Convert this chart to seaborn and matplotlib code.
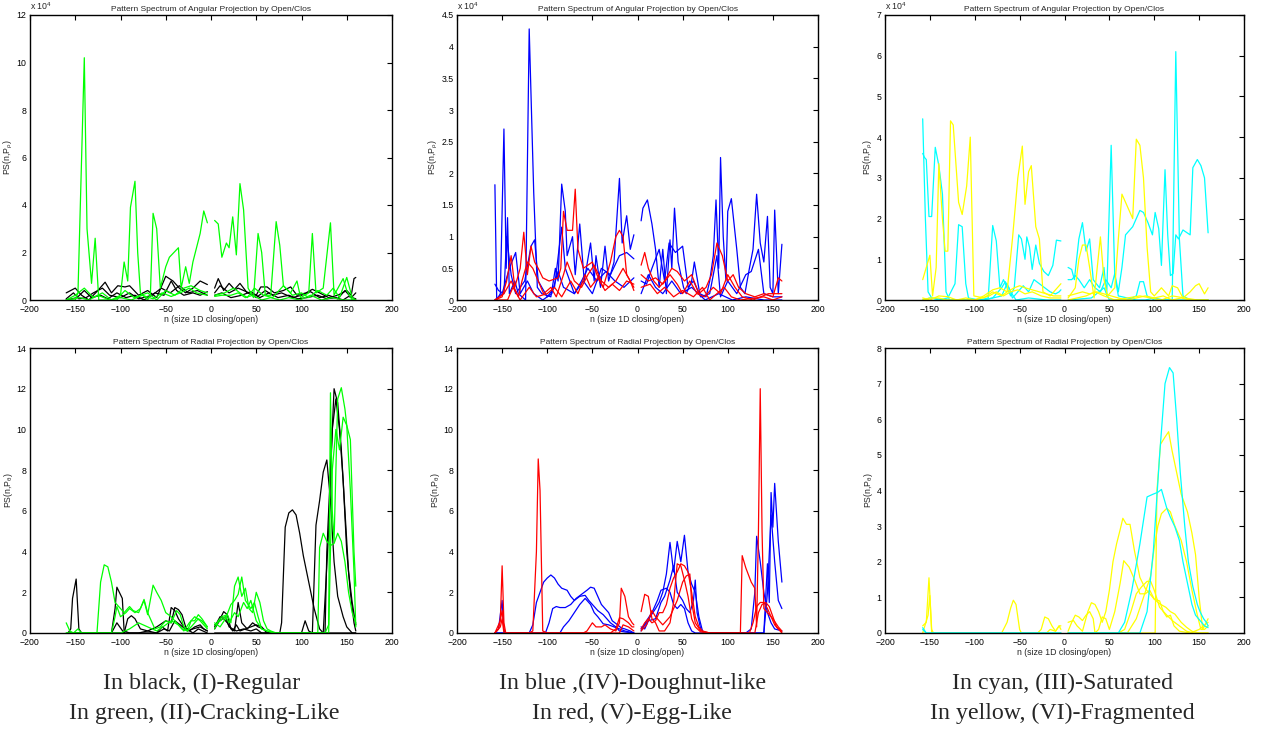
import numpy as np
import pandas as pd
import matplotlib
matplotlib.use("Agg")
import matplotlib.pyplot as plt
import seaborn as sns

# ---------------- data (n, PS) keypoints ----------------
# Top row values are in units of 1e4 (axis shows "x 10^4")

# Top-left: black (I) Regular, green (II) Cracking-Like
TL_K1 = [(-160,0.3),(-150,0.5),(-143,0.2),(-135,0),(-125,0.4),(-117,0.75),(-110,0.3),(-103,0.6),(-95,0.55),(-90,0.6),(-80,0.2),(-70,0.4),(-60,0.1),(-50,1.0),(-42,0.8),(-35,0.5),(-28,0.3),(-20,0.5),(-12,0.8),(-4,0.65),
         (4,0.5),(8,0.9),(14,0.4),(20,0.7),(26,0.45),(32,0.7),(40,0.3),(50,0.2),(55,0.55),(62,0.55),(70,0.3),(80,0.4),(88,0.55),(95,0.2),(105,0.3),(112,0.45),(120,0.3),(130,0.1),(140,0.2),(150,0.4),(155,0.2),(158,0.9),(160,0.95)]
TL_K2 = [(-160,0.05),(-152,0.3),(-146,0.05),(-138,0.1),(-130,0.3),(-120,0.5),(-112,0.2),(-100,0.1),(-90,0.3),(-80,0.05),(-65,0.2),(-55,0.5),(-45,0.3),(-35,0.6),(-25,0.3),(-15,0.4),(-4,0.2),
         (4,0.3),(10,0.6),(20,0.3),(30,0.5),(42,0.3),(50,0.1),(60,0.4),(68,0.2),(78,0.3),(90,0.1),(100,0.2),(110,0.35),(120,0.1),(130,0.2),(140,0.05),(148,0.4),(155,0.1),(160,0.3)]
TL_K3 = [(-160,0.0),(-148,0.1),(-140,0.4),(-132,0.1),(-122,0.2),(-114,0.05),(-104,0.3),(-94,0.1),(-84,0.2),(-74,0.0),(-62,0.3),(-52,0.2),(-44,0.8),(-38,0.4),(-30,0.2),(-20,0.3),(-12,0.2),(-4,0.35),
         (4,0.2),(12,0.3),(22,0.1),(34,0.2),(44,0.35),(54,0.1),(64,0.3),(74,0.1),(86,0.2),(96,0.05),(106,0.1),(118,0.2),(128,0.05),(138,0.1),(146,0.0),(152,0.15),(160,0.05)]
TL_G1 = [(-160,0),(-150,0),(-147,0.3),(-140,10.2),(-137,3.0),(-132,0.7),(-128,2.6),(-124,0),(-104,0),(-100,0.2),(-96,1.6),(-92,0.8),(-89,3.9),(-84,5.0),(-81,2.0),(-78,0.3),(-70,0),(-67,0.2),(-64,3.65),(-60,3.0),(-56,0.5),(-50,1.4),(-46,1.8),(-41,2.0),(-36,2.2),(-33,0.5),(-28,1.4),(-24,0.7),(-20,1.6),(-12,2.8),(-8,3.75),(-4,3.25),
         (4,3.35),(8,3.2),(12,1.8),(17,2.4),(20,2.2),(24,3.5),(28,1.9),(32,4.9),(36,3.8),(41,0.5),(47,0.1),(52,2.8),(56,2.0),(60,0.2),(66,0.2),(72,3.3),(76,2.3),(80,0.6),(88,0.3),(95,0.8),(99,0.1),(108,0.3),(112,2.8),(116,0.3),(124,0.5),(132,3.25),(136,0.2),(146,0.9),(150,0.4),(156,0),(160,0)]
TL_G2 = [(-160,0),(-150,0.2),(-140,0.5),(-130,0.1),(-120,0.3),(-110,0),(-100,0.2),(-95,0.4),(-85,0.1),(-70,0.3),(-60,0),(-50,0.4),(-40,0.2),(-30,0.5),(-22,0.6),(-12,0.4),(-4,0.3),
         (4,0.2),(15,0.3),(25,0.5),(32,0.3),(40,0.1),(48,0.5),(58,0.2),(68,0.1),(80,0.6),(90,0.2),(100,0.3),(108,0.1),(118,0.4),(128,0.2),(135,0.5),(142,0.1),(150,0.95),(156,0.1),(160,0)]
TL_G3 = [(-160,0),(-145,0.1),(-135,0),(-125,0.2),(-112,0),(-100,0.1),(-88,0),(-76,0.2),(-64,0.05),(-54,0.3),(-44,0.15),(-34,0.3),(-24,0.5),(-16,0.3),(-4,0.2),
         (4,0.15),(12,0.2),(22,0.2),(30,0.3),(38,0.1),(46,0.2),(56,0.0),(66,0.1),(76,0.0),(86,0.1),(98,0.0),(110,0.2),(122,0.0),(134,0.1),(146,0.0),(160,0.0)]

# Top-middle: blue (IV) Doughnut-like, red (V) Egg-Like
TM_B1 = [(-158,1.82),(-156,0),(-152,0.1),(-148,2.7),(-145.5,0.5),(-144,1.3),(-142,0.1),(-136,0.3),(-132,0.1),(-124,0),(-120,4.28),(-115,1.7),(-111,0.2),(-106,0.1),(-96,0.05),(-91,0.5),(-88,0.3),(-84,1.83),(-80,1.4),(-78,0.7),(-72,1.0),(-69,0.4),(-64,1.2),(-59,0.3),(-52,0.9),(-48,0.3),(-46,0.7),(-41,0.2),(-36,0.85),(-32,0.3),(-26,0.6),(-20,1.92),(-17,0.9),(-12,1.33),(-8,0.8),(-4,1.03),
         (4,1.25),(6,1.45),(11,1.58),(16,1.2),(20,0.8),(24,0.2),(28,0.8),(32,0.1),(36,0.95),(38,0.5),(41,1.45),(45,0.6),(51,0.2),(54,0.1),(60,0.3),(63,0.6),(69,0.1),(76,0.05),(80,0.3),(84,0.7),(87,1.58),(90,0.5),(92,2.25),(95,1.0),(98,0.3),(100,1.4),(104,1.6),(110,0.8),(114,0.2),(119,0.1),(124,0.5),(128,0.8),(132,1.67),(136,0.9),(140,0.6),(144,1.32),(147,0.2),(150,0.1),(152,1.42),(156,0.1),(160,0.88)]
TM_B2 = [(-158,0.25),(-154,0.15),(-148,0.1),(-145,1.0),(-140,0.4),(-135,0.1),(-125,0.3),(-118,0.85),(-114,0.95),(-110,0.3),(-100,0.05),(-92,0.2),(-84,1.15),(-80,0.5),(-70,0.1),(-60,0.3),(-50,0.1),(-40,0.5),(-30,0.4),(-20,0.7),(-12,0.75),(-4,0.65),
         (4,0.3),(10,0.25),(16,0.5),(24,0.8),(30,0.3),(35,0.9),(42,0.75),(50,0.85),(56,0.2),(62,0.3),(70,0.05),(80,0.1),(88,0.7),(92,0.05),(100,0.3),(110,0.1),(120,0.4),(126,0.45),(134,0.8),(140,0.1),(150,0.05),(160,0.05)]
TM_B3 = [(-158,0),(-150,0.1),(-142,0.5),(-135,0.75),(-130,0.1),(-122,0.3),(-115,0.1),(-105,0),(-95,0.1),(-88,0.45),(-82,0.2),(-70,0.1),(-62,0.3),(-55,0.5),(-45,0.3),(-35,0.45),(-25,0.3),(-15,0.2),(-4,0.35),
         (4,0.1),(12,0.4),(20,0.2),(28,0.1),(38,0.3),(48,0.1),(60,0.2),(75,0.0),(90,0.1),(105,0.0),(120,0.05),(140,0.0),(160,0.0)]
TM_R1 = [(-158,0),(-150,0.05),(-145,0.3),(-140,0.7),(-136,0.2),(-130,0.5),(-126,1.07),(-122,0.4),(-118,0.85),(-114,0.6),(-110,0.5),(-105,0.35),(-98,0.3),(-88,0.35),(-85,0.5),(-82,1.4),(-78,1.1),(-72,1.1),(-69,1.75),(-66,0.8),(-60,0.5),(-50,0.6),(-45,0.4),(-38,0.2),(-30,0.6),(-24,1.0),(-20,1.1),(-16,1.0),(-12,0.4),(-8,0.3),(-4,0.2),
         (4,0.55),(8,0.75),(12,0.5),(18,0.3),(24,0.2),(30,0.3),(38,0.5),(44,0.45),(52,0.3),(60,0.4),(68,0.1),(76,0.2),(82,0.4),(88,0.9),(94,0.7),(100,0.3),(106,0.4),(112,0.2),(120,0.1),(130,0.05),(140,0.1),(150,0.05),(156,0.35),(160,0.3)]
TM_R2 = [(-158,0),(-148,0.1),(-140,0.3),(-132,0.05),(-128,0.3),(-122,0.6),(-116,0.5),(-110,0.3),(-104,0.1),(-96,0.2),(-90,0.05),(-82,0.4),(-78,0.6),(-70,0.3),(-62,0.2),(-55,0.4),(-48,0.55),(-40,0.3),(-32,0.2),(-24,0.3),(-16,0.5),(-8,0.3),(-4,0.15),
         (4,0.4),(12,0.3),(20,0.35),(28,0.25),(36,0.4),(44,0.25),(50,0.1),(58,0.3),(66,0.1),(74,0.05),(84,0.2),(92,0.1),(100,0.4),(108,0.2),(116,0.05),(128,0.0),(145,0.1),(160,0.1)]
TM_R3 = [(-158,0),(-144,0),(-138,0.2),(-130,0),(-120,0.2),(-112,0.05),(-100,0.1),(-92,0.2),(-84,0.05),(-74,0.3),(-66,0.1),(-58,0.4),(-52,0.2),(-44,0.35),(-36,0.15),(-28,0.25),(-20,0.15),(-12,0.3),(-4,0.25),
         (4,0.2),(14,0.25),(22,0.1),(30,0.2),(40,0.05),(50,0.15),(62,0.05),(72,0.2),(80,0.0),(96,0.2),(104,0.05),(114,0.0),(140,0.05),(150,0.0),(160,0.05)]

# Top-right: cyan (III) Saturated, yellow (VI) Fragmented
TR_C1 = [(-158,4.45),(-155,2.0),(-152,0.2),(-148,0.05),(-140,0.0),(-130,0.05),(-122,0.4),(-118,1.85),(-114,1.8),(-110,0.4),(-107,0.05),(-95,0),(-85,0.05),(-80,1.83),(-76,1.45),(-72,0.3),(-68,0.5),(-60,0.1),(-56,0.3),(-51,1.6),(-48,1.5),(-44,1.0),(-42,1.55),(-39,1.3),(-36,0.75),(-32,1.35),(-28,0.9),(-23,0.7),(-18,0.6),(-13,0.85),(-9,1.47),(-4,1.45),
         (4,0.8),(8,0.75),(11,0.5),(16,1.5),(20,1.9),(24,1.2),(28,1.5),(32,0.5),(39,0.3),(44,0.8),(47,0.1),(52,3.8),(56,0.6),(60,0.1),(70,0.05),(80,0.0),(90,0.0),(100,0.05),(110,0.0),(120,0.0),(124,6.1),(128,1.5),(132,0.1),(140,0.0),(160,0.0)]
TR_C2 = [(-158,3.6),(-156,3.5),(-154,3.45),(-151,2.05),(-148,2.05),(-144,3.75),(-140,3.3),(-136,2.6),(-132,0.2),(-128,0.0),(-100,0),(-90,0.0),(-80,0.05),(-70,0.3),(-66,0.45),(-62,0.3),(-58,0.05),(-52,0.2),(-46,0.35),(-40,0.2),(-34,0.5),(-28,0.4),(-22,0.3),(-16,0.2),(-10,0.15),(-6,0.2),(-4,0.25),
         (4,0.5),(8,0.5),(12,0.6),(16,0.5),(22,0.3),(28,0.5),(34,0.3),(40,0.2),(46,0.5),(52,0.3),(56,0.65),(60,0.2),(64,0.8),(68,1.6),(76,1.8),(84,2.2),(88,2.15),(93,1.9),(98,1.6),(101,2.15),(105,1.75),(108,0.85),(112,3.2),(115,1.6),(118,0.6),(121,0.65),(124,1.6),(127,1.5),(132,1.72),(140,1.6),(143,3.25),(148,3.45),(152,3.3),(156,3.0),(160,1.65)]
TR_C3 = [(-158,0),(-150,0.05),(-130,0),(-110,0),(-90,0),(-70,0.1),(-64,0.4),(-60,0.2),(-54,0.0),(-40,0.05),(-20,0.0),(-4,0.0),
         (4,0.0),(30,0.05),(44,0.3),(50,0.0),(70,0.0),(80,0.1),(84,0.45),(88,0.45),(92,0.1),(100,0.0),(120,0.0),(160,0.0)]
TR_Y1 = [(-158,0.5),(-154,0.8),(-150,1.1),(-147,0.1),(-143,0.8),(-140,3.35),(-136,2.0),(-133,1.2),(-130,1.2),(-127,4.4),(-124,4.3),(-118,2.4),(-114,2.1),(-109,2.8),(-105,4.0),(-101,0.1),(-90,0.05),(-80,0.2),(-70,0.1),(-64,0.2),(-58,1.5),(-52,3.0),(-47,3.78),(-44,2.35),(-40,3.15),(-37,3.3),(-32,1.8),(-28,1.5),(-24,0.2),(-16,0.1),(-8,0.3),(-4,0.4),
         (4,0.05),(12,0.3),(16,1.0),(20,1.35),(24,1.35),(28,0.8),(33,0.05),(40,1.55),(44,0.5),(48,0.1),(56,0.3),(60,1.5),(64,2.6),(72,2.2),(76,2.0),(80,3.95),(84,3.8),(88,3.0),(92,1.3),(96,0.2),(100,0.1),(108,0.3),(116,0.1),(120,0.35),(126,0.3),(132,0.05),(140,0.2),(146,0.35),(150,0.4),(156,0.15),(160,0.3)]
TR_Y2 = [(-158,0.05),(-150,0.0),(-145,0.05),(-140,0.1),(-130,0.08),(-120,0.0),(-110,0.05),(-100,0.0),(-90,0.1),(-80,0.25),(-72,0.3),(-64,0.2),(-56,0.3),(-50,0.35),(-44,0.3),(-36,0.25),(-28,0.2),(-20,0.15),(-12,0.1),(-4,0.1),
         (4,0.1),(12,0.15),(20,0.2),(28,0.15),(36,0.2),(44,0.15),(52,0.1),(60,0.05),(70,0.0),(80,0.05),(90,0.1),(100,0.05),(110,0.1),(120,0.0),(130,0.05),(140,0.0),(160,0.0)]
TR_Y3 = [(-158,0.0),(-150,0.05),(-140,0.05),(-132,0.0),(-120,0.0),(-100,0.0),(-84,0.1),(-76,0.2),(-68,0.1),(-60,0.2),(-52,0.25),(-44,0.15),(-36,0.2),(-26,0.1),(-16,0.05),(-4,0.05),
         (4,0.0),(14,0.05),(24,0.1),(34,0.2),(44,0.1),(56,0.0),(70,0.05),(84,0.1),(96,0.05),(108,0.0),(120,0.1),(134,0.05),(148,0.0),(160,0.0)]

# Bottom-left: black (I), green (II)
BL_K1 = [(-158,0),(-155,0.2),(-153,1.7),(-149,2.65),(-146,0.2),(-143,0),(-110,0),(-106,1.2),(-104,2.25),(-98,1.7),(-96,0.1),(-90,0),(-80,0),(-70,0.1),(-60,0.3),(-50,0.6),(-44,0.5),(-40,1.25),(-36,1.15),(-32,0.9),(-28,0.3),(-24,0.1),(-18,0.3),(-12,0.4),(-8,0.2),(-4,0.1),
         (4,0.2),(8,0.5),(14,1.05),(18,0.9),(22,0.2),(26,0.1),(30,1.5),(34,0.5),(40,0.2),(46,0.5),(52,0.3),(58,0.2),(62,0),(76,0),(78,0.5),(82,5.2),(86,5.9),(90,6.05),(94,5.8),(98,4.9),(102,3.8),(108,2.5),(114,1.2),(120,0.2),(124,0),(160,0)]
BL_K2 = [(-158,0),(-110,0),(-104,0.5),(-96,0),(-92,0.7),(-88,0.85),(-84,0.7),(-78,0.2),(-70,0.1),(-60,0),(-54,0.3),(-48,0.1),(-44,1.25),(-40,1.1),(-36,0.7),(-30,0.3),(-20,0),(-14,0.2),(-4,0),
         (4,0.3),(10,0.8),(14,0.7),(18,0.5),(24,0.1),(28,0.4),(32,0.1),(44,0.3),(50,0.4),(56,0.3),(62,0),(100,0),(104,0.6),(108,0.1),(112,0),(116,5.3),(120,6.5),(124,7.9),(128,8.5),(132,6.5),(136,3.5),(140,1.8),(146,0.8),(150,0.3),(156,0),(160,0)]
BL_K3 = [(-158,0),(-60,0),(-52,0.2),(-46,0.1),(-40,0.6),(-34,0.4),(-26,0.1),(-20,0.2),(-12,0.3),(-4,0.1),
         (4,0.4),(10,0.6),(16,0.8),(20,0.3),(28,0.1),(36,0.2),(44,0.1),(50,0.2),(56,0),(120,0),(126,0),(128,4.0),(132,8.0),(136,12.0),(140,11.3),(144,9.0),(148,6.0),(152,3.0),(156,1.5),(160,0.4)]
BL_K4 = [(-158,0),(-4,0),(4,0),(124,0),(130,5.0),(134,10.0),(138,11.5),(142,10.0),(146,7.5),(150,4.0),(154,2.0),(158,0.5),(160,0.1)]
BL_G1 = [(-160,0.5),(-156,0.1),(-152,0),(-147,0.2),(-143,0),(-126,0),(-122,2.5),(-118,3.35),(-114,3.25),(-110,2.5),(-106,1.5),(-100,1.2),(-96,1.0),(-90,1.3),(-86,1.1),(-80,1.0),(-74,1.6),(-70,0.9),(-64,2.35),(-60,2.0),(-55,1.6),(-50,1.0),(-44,0.8),(-38,0.5),(-32,0.2),(-26,0.1),(-20,0.4),(-14,0.7),(-10,0.6),(-6,0.4),(-4,0.3),
         (4,0.2),(8,0.6),(12,0.8),(18,0.9),(22,0.5),(26,2.3),(30,2.75),(34,1.8),(38,2.2),(42,1.2),(46,1.0),(50,2.0),(54,1.5),(58,0.6),(62,0.2),(66,0.1),(72,0),(114,0),(118,0),(120,4.2),(124,4.9),(128,4.5),(132,4.3),(136,4.4),(140,4.9),(144,4.5),(148,3.5),(152,2.0),(156,1.0),(160,0.5)]
BL_G2 = [(-160,0),(-110,0),(-106,0.8),(-104,1.3),(-100,0.8),(-94,1.0),(-90,1.2),(-84,1.0),(-78,1.2),(-74,1.65),(-70,1.0),(-62,0.2),(-56,0.3),(-50,0.6),(-44,0.5),(-38,1.1),(-34,0.9),(-30,0.3),(-26,0.1),(-22,0.6),(-18,0.6),(-14,0.9),(-10,0.7),(-4,0.3),
         (4,0.5),(10,0.3),(16,0.7),(22,1.4),(26,1.6),(30,1.9),(34,2.75),(38,1.6),(44,1.2),(48,1.5),(52,0.8),(56,0.2),(62,0.1),(70,0),(126,0),(130,0.4),(132,11.8),(134,6.0),(136,4.5),(140,11.5),(144,12.05),(148,11.0),(150,10.2),(154,9.5),(158,4.0),(160,2.3)]
BL_G3 = [(-160,0),(-100,0),(-90,0.2),(-80,0.5),(-70,0.3),(-60,0.1),(-50,0.4),(-44,0.6),(-36,0.4),(-30,0.1),(-24,0.5),(-18,0.8),(-12,0.6),(-4,0.2),
         (4,0.4),(10,0.6),(16,0.8),(20,0.5),(26,1.0),(30,0.8),(36,1.5),(40,1.2),(44,1.6),(50,0.6),(56,0.2),(62,0.1),(70,0),(126,0),(130,0),(134,8.0),(138,10.0),(142,9.0),(146,10.6),(150,10.2),(154,7.0),(158,3.0),(160,0.3)]

# Bottom-middle: blue (IV), red (V)
BM_B1 = [(-158,0),(-154,0.2),(-150,1.6),(-148,0.1),(-146,0),(-120,0),(-116,0.4),(-112,1.5),(-108,2.0),(-104,2.5),(-100,2.7),(-96,2.85),(-92,2.7),(-88,2.4),(-84,2.2),(-78,2.1),(-74,1.8),(-70,1.6),(-64,1.8),(-58,1.85),(-54,1.6),(-50,1.4),(-44,1.1),(-38,0.9),(-34,0.7),(-30,0.5),(-24,0.3),(-20,0.1),(-14,0.05),(-4,0),
         (4,0.3),(8,0.2),(14,0.8),(20,1.2),(24,1.5),(28,2.0),(32,2.9),(36,4.45),(40,3.0),(44,4.5),(48,3.5),(52,4.8),(56,3.0),(60,2.4),(64,2.0),(68,0.8),(72,0.1),(76,0),(120,0),(126,0.2),(130,2.0),(132,4.75),(136,3.5),(140,2.0),(144,1.0),(148,0.5),(152,0.2),(160,0.1)]
BM_B2 = [(-158,0),(-102,0),(-98,0.5),(-94,1.2),(-90,1.3),(-86,1.25),(-80,1.25),(-74,1.4),(-68,1.7),(-62,1.9),(-56,2.1),(-52,2.25),(-48,2.2),(-44,1.8),(-40,1.4),(-36,1.2),(-32,1.0),(-28,0.6),(-22,0.4),(-18,0.25),(-14,0.2),(-8,0.1),(-4,0),
         (4,0.1),(10,0.6),(16,1.0),(22,1.6),(26,2.1),(32,2.2),(36,2.0),(40,1.4),(44,1.2),(48,1.4),(52,1.2),(56,0.5),(60,0.1),(64,0),(140,0),(144,3.4),(146,1.5),(148,6.9),(150,5.2),(152,7.35),(156,4.5),(160,2.5)]
BM_B3 = [(-158,0),(-86,0),(-82,0.3),(-76,0.6),(-70,1.0),(-64,1.4),(-58,1.7),(-52,1.4),(-48,1.0),(-44,0.8),(-38,0.45),(-32,0.4),(-26,0.3),(-20,0.2),(-14,0.1),(-4,0),
         (4,0.2),(12,0.6),(20,0.7),(26,1.5),(30,1.8),(36,2.6),(40,3.3),(44,2.0),(50,1.6),(54,1.2),(58,1.0),(62,1.6),(64,2.6),(66,1.0),(70,0.2),(74,0),(140,0),(144,2.0),(148,5.8),(152,3.5),(156,1.6),(160,1.2)]
BM_R1 = [(-158,0),(-156,0.2),(-152,0.6),(-150,3.3),(-148,0.5),(-146,0),(-120,0),(-116,0.1),(-112,4.0),(-110,8.55),(-108,7.0),(-105,0.1),(-100,0),(-60,0),(-56,0.1),(-50,0.5),(-46,0.3),(-40,0.3),(-36,0.4),(-30,0.2),(-24,0.1),(-20,0.5),(-18,2.2),(-14,1.8),(-10,0.8),(-6,0.5),(-4,0.4),
         (4,1.05),(8,1.9),(12,1.8),(16,0.7),(20,0.5),(24,0.1),(30,0.1),(36,0.5),(40,1.5),(44,3.4),(48,3.3),(52,2.6),(56,1.8),(60,0.7),(64,0.3),(70,0.05),(80,0),(112,0),(114,0),(116,3.8),(120,3.2),(126,2.5),(130,2.2),(132,0.3),(134,5.0),(136,12.0),(138,5.0),(140,1.2),(144,1.0),(150,0.7),(156,0.3),(160,0.1)]
BM_R2 = [(-158,0),(-154,0.2),(-150,1.1),(-148,0.2),(-146,0),(-30,0),(-24,0.2),(-20,0.75),(-16,0.7),(-10,0.5),(-6,0.3),(-4,0.3),
         (4,0.2),(8,0.5),(12,0.7),(16,0.5),(20,0.6),(24,1.0),(28,1.0),(32,1.4),(36,2.2),(40,2.7),(44,3.0),(48,3.4),(52,3.3),(56,3.0),(60,2.0),(64,0.8),(68,0.3),(72,0.1),(80,0),(124,0),(128,0.5),(132,1.3),(136,1.5),(140,1.5),(144,1.2),(148,0.8),(152,0.4),(156,0.2),(160,0)]
BM_R3 = [(-158,0),(-152,0.3),(-150,0.7),(-148,0),(-20,0),(-16,0.4),(-10,0.3),(-4,0.1),
         (4,0.1),(10,0.4),(16,1.1),(20,0.8),(28,0.4),(36,0.8),(44,1.6),(50,2.5),(54,2.8),(58,2.9),(60,1.5),(64,0.5),(70,0.1),(80,0),(130,0),(134,1.0),(138,1.4),(142,1.5),(146,1.3),(150,0.8),(154,0.3),(160,0.05)]

# Bottom-right: cyan (III), yellow (VI)
BR_Y1 = [(-158,0.2),(-154,0.3),(-151,1.55),(-148,0.1),(-146,0),(-70,0),(-64,0.3),(-60,0.7),(-57,0.92),(-54,0.8),(-50,0.1),(-48,0),(-30,0),(-26,0.1),(-22,0.45),(-18,0.4),(-14,0.2),(-10,0.05),(-6,0.2),(-4,0.2),
         (4,0.3),(10,0.35),(14,0.2),(20,0.05),(26,0.6),(30,0.85),(34,0.8),(38,0.6),(42,0.3),(46,0.6),(50,1.2),(54,2.0),(58,2.5),(62,2.9),(65,3.22),(69,3.05),(73,3.05),(78,2.3),(84,1.56),(90,1.25),(95,1.1),(100,0.95),(106,0.82),(113,0.72),(118,0.6),(123,0.53),(130,0.3),(136,0.16),(142,0.05),(150,0),(160,0)]
BR_Y2 = [(-158,0),(-152,0.5),(-150,1.05),(-148,0),(-20,0),(-16,0.1),(-10,0.05),(-6,0.2),(-4,0.1),
         (4,0.05),(8,0.3),(12,0.5),(16,0.45),(20,0.35),(24,0.5),(28,0.6),(32,0.4),(34,0.0),(38,0.1),(42,0.45),(46,0.4),(50,0.1),(56,0.6),(62,1.4),(66,2.03),(72,1.85),(78,1.5),(84,1.1),(90,1.1),(95,1.2),(100,0.95),(106,0.9),(110,0.6),(114,0.45),(118,0.5),(122,0.2),(128,0.05),(140,0),(150,0.1),(160,0.3)]
BR_Y3 = [(-158,0),(-4,0),(4,0),(60,0),(67,0.1),(74,0.6),(80,1.1),(86,1.3),(92,1.45),(96,1.45),(100,1.2),(106,0.72),(114,0.5),(121,0.33),(128,0.2),(136,0.05),(144,0),(160,0)]
BR_Y4 = [(-158,0),(-4,0),(4,0),(100,0),(101,0),(103,4.0),(107,5.3),(112,5.5),(116,5.65),(120,5.1),(125,4.5),(130,3.9),(137,3.4),(142,2.8),(146,2.2),(150,1.0),(154,0.1),(158,0.3),(160,0.4)]
BR_Y5 = [(-158,0),(-4,0),(4,0),(70,0),(80,0.4),(88,1.0),(96,1.6),(100,2.4),(104,3.0),(108,3.35),(114,3.5),(118,3.4),(123,3.0),(130,2.6),(136,2.0),(142,1.2),(148,0.5),(152,0.1),(156,0.1),(160,0.2)]
BR_C1 = [(-158,0.15),(-154,0),(-4,0),(4,0),(60,0),(67,0.3),(75,1.2),(84,2.5),(92,3.82),(99,3.9),(104,3.95),(108,4.03),(114,3.5),(118,3.25),(123,2.98),(128,2.6),(132,2.0),(137,1.4),(142,0.8),(146,0.5),(151,0.35),(156,0.2),(160,0.15)]
BR_C2 = [(-158,0.1),(-154,0),(-4,0),(4,0),(84,0),(92,0.6),(99,2.3),(106,5.0),(112,7.0),(117,7.45),(121,7.3),(125,6.0),(129,4.5),(134,3.0),(138,2.0),(143,1.3),(148,0.8),(151,0.6),(155,0.4),(158,0.3),(160,0.2)]

TITLES = ["Pattern Spectrum of Angular Projection by Open/Clos",
          "Pattern Spectrum of Radial Projection by Open/Clos"]
XLABEL = "n (size 1D closing/open)"
YLABELS = [r"PS(n,P$_\rho$)", r"PS(n,P$_\theta$)"]
CAPTIONS = [("In black, (I)-Regular", "In green, (II)-Cracking-Like"),
            ("In blue ,(IV)-Doughnut-like", "In red, (V)-Egg-Like"),
            ("In cyan, (III)-Saturated", "In yellow, (VI)-Fragmented")]
COLORS = {"black": "#000000", "green": "#00ff00", "blue": "#0000ff",
          "red": "#ff0000", "cyan": "#00ffff", "yellow": "#ffff00"}
XTICKS = [-200, -150, -100, -50, 0, 50, 100, 150, 200]
YMAX = [[12, 4.5, 7], [14, 14, 8]]
YSTEP = [[2, 0.5, 1], [2, 2, 1]]

# panel -> list of (colour, line) in drawing order
PANELS = [
    [[("black", TL_K1), ("black", TL_K2), ("black", TL_K3), ("green", TL_G2), ("green", TL_G3), ("green", TL_G1)],
     [("blue", TM_B3), ("blue", TM_B2), ("blue", TM_B1), ("red", TM_R3), ("red", TM_R2), ("red", TM_R1)],
     [("cyan", TR_C3), ("cyan", TR_C2), ("cyan", TR_C1), ("yellow", TR_Y3), ("yellow", TR_Y2), ("yellow", TR_Y1)]],
    [[("black", BL_K1), ("black", BL_K2), ("black", BL_K3), ("black", BL_K4), ("green", BL_G3), ("green", BL_G2), ("green", BL_G1)],
     [("blue", BM_B3), ("blue", BM_B2), ("blue", BM_B1), ("red", BM_R3), ("red", BM_R2), ("red", BM_R1)],
     [("yellow", BR_Y3), ("yellow", BR_Y2), ("yellow", BR_Y1), ("yellow", BR_Y5), ("yellow", BR_Y4), ("cyan", BR_C1), ("cyan", BR_C2)]],
]

# ---------------- drawing ----------------
sns.set_style("white")
plt.rcParams["font.family"] = ["Liberation Sans", "DejaVu Sans"]
plt.rcParams["mathtext.fontset"] = "custom"
plt.rcParams["mathtext.rm"] = "Liberation Sans"
plt.rcParams["mathtext.it"] = "Liberation Sans"

fig = plt.figure(figsize=(12.61, 7.33), dpi=100)
W, H = 1261.0, 733.0
lefts = [30, 457, 885]
rights = [392, 818, 1244]
tops = [15, 348]
bottoms = [300, 633]

TICK_FS = 6.3
for r in range(2):
    for c in range(3):
        ax = fig.add_axes([lefts[c] / W, 1 - bottoms[r] / H,
                           (rights[c] - lefts[c]) / W, (bottoms[r] - tops[r]) / H])
        for li, (cname, pts) in enumerate(PANELS[r][c]):
            df = pd.DataFrame(pts, columns=["n", "ps"])
            df["seg"] = np.where(df["n"] < 0, "L", "R")
            sns.lineplot(data=df, x="n", y="ps", units="seg", estimator=None,
                         sort=False, color=COLORS[cname], lw=0.9, ax=ax, legend=False)
        ax.set_xlim(-200, 200)
        ax.set_ylim(0, YMAX[r][c])
        ax.set_xticks(XTICKS)
        yt = np.arange(0, YMAX[r][c] + 1e-9, YSTEP[r][c])
        ax.set_yticks(yt)
        ax.set_yticklabels([("%g" % v) for v in yt])
        ax.tick_params(direction="in", top=True, right=True, length=3.5, width=0.8,
                       labelsize=TICK_FS, colors="black")
        ax.tick_params(axis="x", pad=3.5)
        ax.tick_params(axis="y", pad=2.5)
        for sp in ax.spines.values():
            sp.set_linewidth(1.0)
            sp.set_color("black")
        ax.set_title(TITLES[r], fontsize=6.0, pad=3)
        ax.set_xlabel(XLABEL, fontsize=6.3, labelpad=1)
        ax.set_ylabel(YLABELS[r], fontsize=6.3, labelpad=1)
        if r == 0:
            ax.text(0.0, 1.012, r"x 10$^4$", transform=ax.transAxes,
                    fontsize=TICK_FS, ha="left", va="bottom")

caption_x = [[202, 204], [633, 632], [1063, 1062]]
for c in range(3):
    l1, l2 = CAPTIONS[c]
    fig.text(caption_x[c][0] / W, 1 - 683 / H, l1, ha="center", va="center",
             fontsize=17.2, family="Liberation Serif")
    fig.text(caption_x[c][1] / W, 1 - 713 / H, l2, ha="center", va="center",
             fontsize=17.2, family="Liberation Serif")

fig.savefig("out.png", dpi=100, facecolor="white")
